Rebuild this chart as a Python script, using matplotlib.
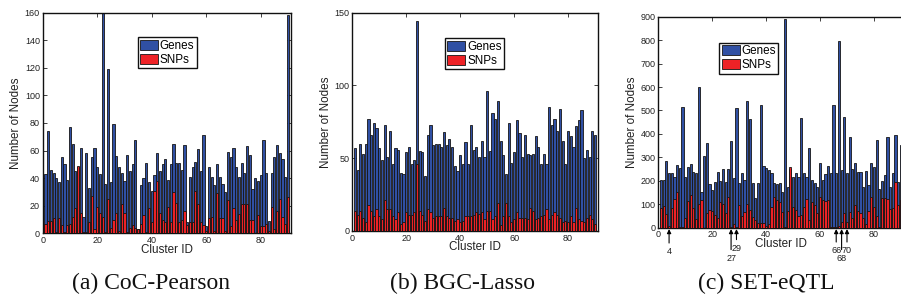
import matplotlib
matplotlib.use("Agg")
import matplotlib.pyplot as plt
import numpy as np

cluster_ids = list(range(1, 91))

coc_genes = [43, 74, 46, 44, 40, 37, 55, 50, 39, 77,
             65, 45, 48, 62, 12, 58, 33, 55, 62, 48,
             43, 160, 36, 119, 37, 79, 56, 48, 44, 38,
             57, 45, 50, 68, 3, 35, 40, 51, 37, 31,
             42, 58, 45, 50, 54, 39, 50, 65, 51, 51,
             46, 64, 8, 41, 48, 52, 61, 45, 71, 5,
             48, 41, 35, 50, 41, 36, 30, 59, 55, 62,
             48, 41, 51, 44, 63, 57, 32, 40, 38, 42,
             68, 44, 9, 44, 55, 64, 58, 54, 41, 158]
coc_snps = [7, 9, 9, 11, 1, 11, 6, 1, 6, 7,
            12, 18, 49, 15, 1, 1, 8, 27, 3, 19,
            15, 12, 1, 25, 4, 10, 15, 2, 21, 15,
            1, 4, 6, 4, 3, 7, 13, 1, 18, 8,
            31, 38, 15, 10, 8, 19, 8, 30, 22, 8,
            10, 16, 6, 8, 8, 31, 21, 8, 6, 2,
            11, 12, 2, 29, 11, 11, 2, 24, 5, 18,
            10, 14, 21, 21, 21, 10, 10, 0, 13, 5,
            5, 7, 2, 19, 3, 16, 25, 12, 7, 26]

bgc_genes = [57, 42, 60, 53, 60, 77, 66, 74, 71, 57,
             49, 73, 51, 69, 46, 57, 56, 40, 39, 54,
             58, 46, 49, 144, 55, 54, 38, 66, 73, 59,
             60, 60, 58, 68, 59, 63, 58, 45, 41, 52,
             46, 61, 46, 73, 56, 58, 51, 62, 51, 96,
             55, 81, 77, 89, 62, 52, 39, 74, 47, 54,
             76, 67, 51, 66, 53, 52, 53, 65, 58, 46,
             53, 46, 85, 73, 77, 69, 84, 62, 46, 69,
             65, 58, 72, 76, 83, 50, 56, 51, 69, 66]
bgc_snps = [14, 11, 14, 9, 6, 18, 14, 10, 15, 10,
            8, 21, 15, 15, 10, 8, 13, 5, 6, 13,
            11, 11, 13, 46, 14, 11, 7, 15, 13, 9,
            10, 10, 10, 16, 10, 9, 9, 7, 8, 6,
            7, 10, 10, 10, 11, 13, 12, 13, 8, 14,
            14, 8, 10, 19, 4, 10, 19, 10, 6, 8,
            13, 9, 9, 9, 8, 16, 14, 8, 9, 10,
            11, 15, 8, 11, 13, 11, 9, 6, 7, 6,
            10, 6, 16, 8, 7, 6, 9, 11, 8, 5]

set_genes = [203, 203, 286, 232, 232, 218, 266, 253, 513, 218,
             260, 270, 236, 232, 599, 154, 306, 360, 186, 161,
             196, 236, 199, 249, 193, 249, 370, 210, 509, 192,
             232, 203, 542, 464, 192, 125, 192, 523, 264, 253,
             246, 232, 189, 185, 192, 154, 889, 175, 250, 218,
             235, 215, 466, 232, 218, 338, 203, 192, 172, 277,
             203, 229, 263, 232, 523, 232, 798, 246, 474, 235,
             385, 249, 274, 239, 239, 172, 243, 182, 277, 260,
             374, 164, 200, 225, 388, 175, 235, 395, 196, 353]
set_snps = [85, 92, 58, 7, 85, 122, 154, 3, 3, 40,
            114, 139, 85, 36, 101, 118, 0, 61, 75, 71,
            54, 40, 111, 101, 61, 132, 4, 16, 4, 97,
            50, 68, 101, 75, 47, 33, 21, 21, 21, 7,
            16, 90, 129, 118, 111, 68, 4, 73, 257, 87,
            75, 50, 54, 90, 121, 33, 111, 97, 61, 129,
            118, 115, 118, 4, 4, 4, 7, 26, 61, 26,
            68, 40, 97, 73, 61, 40, 16, 71, 129, 90,
            50, 4, 125, 125, 121, 78, 82, 196, 97, 118]

captions = ["(a) CoC-Pearson", "(b) BGC-Lasso", "(c) SET-eQTL"]
highlight_ids = [4, 27, 29, 66, 68, 70]

W, H = 901, 301
fig = plt.figure(figsize=(W / 100, H / 100), dpi=100)

def rect(l, r, t, b):
    return [l / W, (H - b) / H, (r - l) / W, (b - t) / H]

BLUE = "#3050A4"
RED = "#EE2226"
EDGE = "#151515"
SANS = ["Liberation Sans", "DejaVu Sans"]
SERIF = ["Liberation Serif", "DejaVu Serif"]

panels = [
    dict(pos=rect(42.7, 290.7, 12.7, 233.3), genes=coc_genes, snps=coc_snps,
         ylim=160, yticks=np.arange(0, 161, 20), leg=(137.7, 37.3), right=True),
    dict(pos=rect(352.3, 597.7, 12.7, 231.0), genes=bgc_genes, snps=bgc_snps,
         ylim=150, yticks=[0, 50, 100, 150], leg=(445.0, 38.3), right=True),
    dict(pos=rect(658.3, 903.6, 16.7, 227.7), genes=set_genes, snps=set_snps,
         ylim=900, yticks=np.arange(0, 901, 100), leg=(719.3, 42.7), right=False),
]

axes = []
for p in panels:
    ax = fig.add_axes(p["pos"])
    axes.append(ax)
    hb = ax.bar(cluster_ids, p["genes"], width=0.8, color=BLUE, edgecolor=EDGE,
                linewidth=0.6, label="Genes", zorder=2)
    hr = ax.bar(cluster_ids, p["snps"], width=0.8, color=RED, edgecolor=EDGE,
                linewidth=0.6, label="SNPs", zorder=3)
    ax.set_xlim(0, 91)
    ax.set_ylim(0, p["ylim"])
    ax.set_xticks([0, 20, 40, 60, 80])
    ax.set_yticks(p["yticks"])
    ax.tick_params(direction="in", top=True, right=p["right"], length=3, width=0.6,
                   labelsize=6.5, pad=2, colors="#222222")
    for lab in ax.get_xticklabels() + ax.get_yticklabels():
        lab.set_family(SANS)
    for s in ax.spines.values():
        s.set_linewidth(1.0)
        s.set_color("#111111")
    bb = ax.get_position()
    ax.set_ylabel("Number of Nodes", fontsize=8.4, family=SANS, color="#222222")
    ax.yaxis.set_label_coords(-26.6 / (bb.width * W), 0.5)
    ax.yaxis.label.set_va("center")
    ax.set_xlabel("Cluster ID", fontsize=8.4, family=SANS, color="#222222")
    ax.xaxis.set_label_coords(0.5, -16.5 / (bb.height * H))
    ax.xaxis.label.set_va("center")
    lx, ly = p["leg"]
    ax_l = bb.x0 * W
    ax_t = H - (bb.y0 + bb.height) * H
    leg = ax.legend(handles=[hb, hr], loc="upper left",
                    bbox_to_anchor=((lx - ax_l) / (bb.width * W),
                                    1 - (ly - ax_t) / (bb.height * H)),
                    borderaxespad=0, prop={"family": SANS, "size": 8.4},
                    handlelength=1.55, handleheight=1.0, handletextpad=0.15,
                    labelspacing=0.15, borderpad=0.2, fancybox=False,
                    framealpha=1, edgecolor="#111111")
    leg.get_frame().set_linewidth(1.0)

axc = axes[2]
offsets = {4: -24, 27: -30.6, 29: -20.6, 66: -23, 68: -30.6, 70: -23}
for cid in highlight_ids:
    axc.annotate(str(cid), xy=(cid, 0), xycoords="data",
                 xytext=(0, offsets[cid] * 0.72), textcoords="offset points",
                 ha="center", va="center", fontsize=6.5, family=SANS, color="#222222",
                 annotation_clip=False,
                 arrowprops=dict(arrowstyle="-|>", color="black", lw=0.8,
                                 mutation_scale=6, shrinkA=1, shrinkB=1))

cap_x = [151, 462, 766]
for cx, txt in zip(cap_x, captions):
    fig.text(cx / W, (H - 283) / H, txt, ha="center", va="center",
             fontsize=17, family=SERIF, color="#111111")

fig.savefig("out.png", dpi=100)
